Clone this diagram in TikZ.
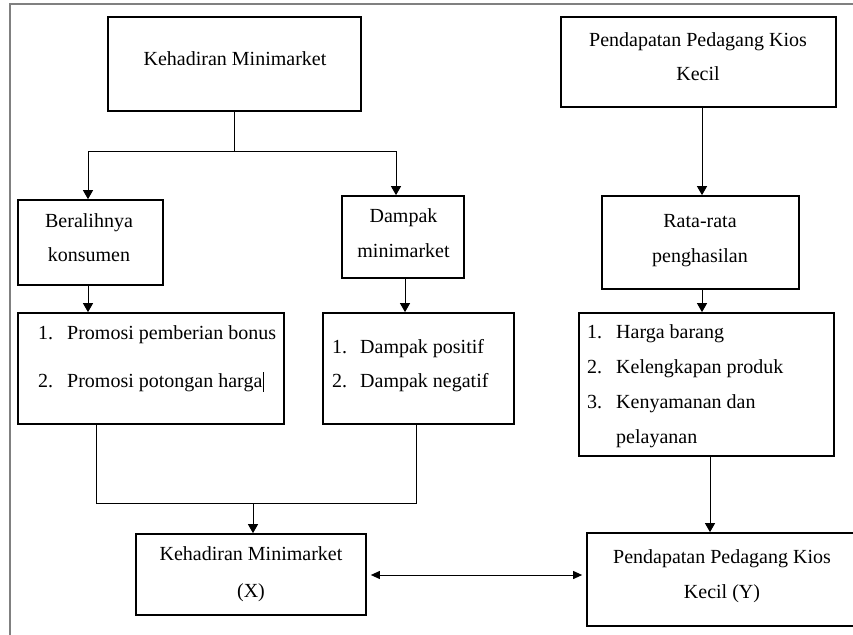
\documentclass[tikz,border=0pt]{standalone}
\usepackage{fontspec}
\setmainfont{Liberation Serif}
\usetikzlibrary{arrows.meta}
\begin{document}
\begin{tikzpicture}[x=1pt,y=-1pt,
  box/.style={draw, line width=1.7pt, inner sep=0pt},
  conn/.style={line width=1pt},
  arr/.style={conn, -{Triangle[length=9pt,width=10pt]}},
  dbl/.style={conn, {Triangle[length=9pt,width=8pt]}-{Triangle[length=9pt,width=8pt]}},
  txt/.style={inner sep=0pt, font=\fontsize{20}{24}\selectfont, text height=14pt, text depth=4pt},
  item/.style={txt, anchor=west}]
\useasboundingbox (0,0) rectangle (853,634);
\clip (0,0) rectangle (853,634);
% outer frame
\draw[gray, line width=1.5pt] (10,4) rectangle (880,660);
% boxes
\node[box, minimum width=253pt, minimum height=94pt] (A) at (234.5,64) {};
\node[box, minimum width=145pt, minimum height=85pt] (B1) at (90.5,242.5) {};
\node[box, minimum width=122pt, minimum height=82pt] (B2) at (403,237) {};
\node[box, minimum width=266pt, minimum height=111pt] (C1) at (151,368.5) {};
\node[box, minimum width=191pt, minimum height=111pt] (C2) at (418.5,368.5) {};
\node[box, minimum width=230pt, minimum height=81pt] (X) at (251,574.5) {};
\node[box, minimum width=275pt, minimum height=90pt] (P) at (698.5,62) {};
\node[box, minimum width=197pt, minimum height=93pt] (R) at (700.5,242.5) {};
\node[box, minimum width=255pt, minimum height=143pt] (S) at (706.5,384.5) {};
\node[box, minimum width=270pt, minimum height=93pt] (Y) at (722,579.5) {};
% texts
\node[txt] (At) at (235,60) {Kehadiran Minimarket};
\node[txt] (B1a) at (89,222) {Beralihnya};
\node[txt] (B1b) at (89,256) {konsumen};
\node[txt] (B2a) at (403.5,217) {Dampak};
\node[txt] (B2b) at (403.5,252) {minimarket};
\node[txt] (Pa) at (698,41) {Pendapatan Pedagang Kios};
\node[txt] (Pb) at (698,75) {Kecil};
\node[txt] (Ra) at (700,222) {Rata-rata};
\node[txt] (Rb) at (700,257) {penghasilan};
\node[txt] (Xa) at (251,555) {Kehadiran Minimarket};
\node[txt] (Xb) at (251,592) {(X)};
\node[txt] (Ya) at (722,558) {Pendapatan Pedagang Kios};
\node[txt] (Yb) at (722,593) {Kecil (Y)};
\node[item] (C1a) at (38,334) {\makebox[29pt][l]{1.}Promosi pemberian bonus};
\node[item] (C1b) at (38,382) {\makebox[29pt][l]{2.}Promosi potongan harga};
\draw[line width=0.8pt] ([xshift=1pt]C1b.east |- 0,372) -- ([xshift=1pt]C1b.east |- 0,392);
\node[item] (C2a) at (332,348) {\makebox[28pt][l]{1.}Dampak positif};
\node[item] (C2b) at (332,382) {\makebox[28pt][l]{2.}Dampak negatif};
\node[item] (Sa) at (587,333) {\makebox[29pt][l]{1.}Harga barang};
\node[item] (Sb) at (587,368) {\makebox[29pt][l]{2.}Kelengkapan produk};
\node[item] (Sc) at (587,403) {\makebox[29pt][l]{3.}Kenyamanan dan};
\node[item] (Sd) at (616,438) {pelayanan};
% connectors left
\coordinate (jL) at (88,151);
\coordinate (jR) at (396,151);
\draw[conn] (A.south) -- (A.south |- jL);
\draw[conn] (jL) -- (jR);
\draw[arr] (jL) -- (jL |- B1.north);
\draw[arr] (jR) -- (jR |- B2.north);
\draw[arr] (jL |- B1.south) -- (jL |- C1.north);
\coordinate (bc) at (405,0);
\draw[arr] (bc |- B2.south) -- (bc |- C2.north);
\coordinate (m1) at (96,503);
\coordinate (m2) at (416,503);
\coordinate (m3) at (253,503);
\draw[conn] (m1 |- C1.south) -- (m1) -- (m2) -- (m2 |- C2.south);
\draw[arr] (m3) -- (m3 |- X.north);
% connectors right
\coordinate (pr) at (702,0);
\draw[arr] (pr |- P.south) -- (pr |- R.north);
\draw[arr] (pr |- R.south) -- (pr |- S.north);
\coordinate (sy) at (710,0);
\draw[arr] (sy |- S.south) -- (sy |- Y.north);
% double arrow
\coordinate (dy) at (0,575);
\draw[dbl] ([xshift=4pt]X.east |- dy) -- ([xshift=-4pt]Y.west |- dy);
\end{tikzpicture}
\end{document}
